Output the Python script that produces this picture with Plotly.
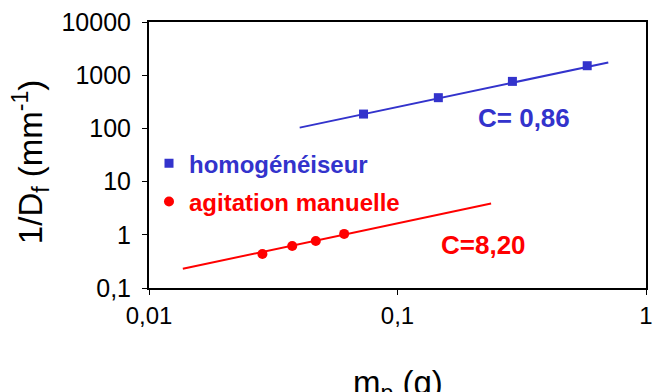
import numpy as np
import plotly.graph_objects as go

# --- data ---
homog_mp = [0.073, 0.146, 0.29, 0.58]
homog_invD = [186, 378, 765, 1507]
homog_fit_mp = [0.0404, 0.705]
homog_fit_invD = [103.5, 1738]

agit_mp = [0.0286, 0.0377, 0.0469, 0.0610]
agit_invD = [0.435, 0.614, 0.762, 1.04]
agit_fit_mp = [0.01368, 0.238]
agit_fit_invD = [0.230, 3.88]

y_tickvals = [0.1, 1, 10, 100, 1000, 10000]
y_ticktext = ["0,1", "1", "10", "100", "1000", "10000"]
x_tickvals = [0.01, 0.1, 1]
x_ticktext = ["0,01", "0,1", "1"]

label_homog = "homogénéiseur"
label_agit = "agitation manuelle"
c_homog = "C= 0,86"
c_agit = "C=8,20"

BLUE = "#3333CC"
RED = "#FF0000"
FONT = "Arial, 'Liberation Sans', sans-serif"

fig = go.Figure()

fig.add_trace(go.Scatter(x=homog_fit_mp, y=homog_fit_invD, mode="lines",
                         line=dict(color=BLUE, width=2), showlegend=False, hoverinfo="skip"))
fig.add_trace(go.Scatter(x=agit_fit_mp, y=agit_fit_invD, mode="lines",
                         line=dict(color=RED, width=2), showlegend=False, hoverinfo="skip"))

fig.add_trace(go.Scatter(x=homog_mp, y=homog_invD, mode="markers",
                         marker=dict(symbol="square", size=9, color=BLUE),
                         name="<b><span style='color:%s'>%s</span></b>" % (BLUE, label_homog),
                         legendgroup="a"))
fig.add_trace(go.Scatter(x=agit_mp, y=agit_invD, mode="markers",
                         marker=dict(symbol="circle", size=10, color=RED),
                         name="<b><span style='color:%s'>%s</span></b>" % (RED, label_agit),
                         legendgroup="b"))

fig.add_annotation(x=np.log10(0.323), y=np.log10(154.5), text="<b>%s</b>" % c_homog,
                   showarrow=False, font=dict(color=BLUE, size=26, family=FONT),
                   xanchor="center", yanchor="middle")
fig.add_annotation(x=np.log10(0.222), y=np.log10(0.641), text="<b>%s</b>" % c_agit,
                   showarrow=False, font=dict(color=RED, size=26, family=FONT),
                   xanchor="center", yanchor="middle")

# axis titles
fig.add_annotation(xref="paper", yref="paper", x=0.5, y=-0.365,
                   text="m<sub>p</sub> (g)", showarrow=False,
                   font=dict(size=33, color="black", family=FONT),
                   xanchor="center", yanchor="middle")
fig.add_annotation(xref="paper", yref="paper", x=-0.237, y=0.474,
                   text="1/D<sub>f</sub> (mm<sup>-1</sup>)", showarrow=False, textangle=-90,
                   font=dict(size=33, color="black", family=FONT),
                   xanchor="center", yanchor="middle")

fig.update_layout(
    width=654, height=392,
    margin=dict(l=149, r=1, t=22, b=104),
    paper_bgcolor="white", plot_bgcolor="white",
    font=dict(family=FONT, color="black"),
    legend=dict(x=0.0, y=0.552, xanchor="left", yanchor="top",
                font=dict(size=24, family=FONT), bgcolor="rgba(0,0,0,0)",
                tracegroupgap=4, itemwidth=30),
)
fig.update_xaxes(type="log", range=[-2, 0], tickvals=x_tickvals, ticktext=x_ticktext,
                 showgrid=False, zeroline=False, showline=True, linecolor="black",
                 linewidth=2, mirror=True, ticks="outside", ticklen=5, tickwidth=1,
                 tickcolor="black", tickfont=dict(size=24, family=FONT),
                 ticklabeloverflow="allow")
fig.update_yaxes(type="log", range=[-1, 4], tickvals=y_tickvals, ticktext=y_ticktext,
                 showgrid=False, zeroline=False, showline=True, linecolor="black",
                 linewidth=2, mirror=True, ticks="outside", ticklen=5, tickwidth=1,
                 tickcolor="black", tickfont=dict(size=25, family=FONT),
                 ticklabelstandoff=6, ticklabeloverflow="allow")

fig.write_html("out.html", config={"displayModeBar": False},
               post_script="document.body.style.margin='0';document.body.style.overflow='hidden';")
